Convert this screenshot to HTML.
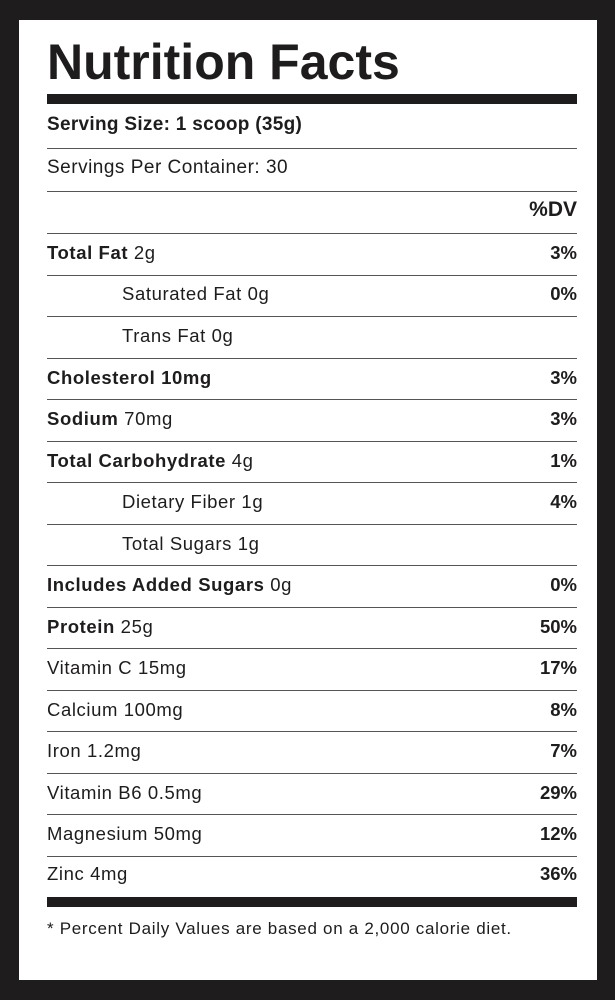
<!DOCTYPE html>
<html><head><meta charset="utf-8"><style>
body{margin:0;width:615px;height:1000px;background:#1e1c1d;position:relative;font-family:"Liberation Sans",sans-serif;color:#1e1c1d;overflow:hidden}
.panel{position:absolute;left:19px;top:20px;width:578px;height:960px;background:#fff}
.t{position:absolute;left:47px;top:33px;font-size:50px;font-weight:bold;letter-spacing:0px}
.bar{position:absolute;left:47px;width:530px;height:10px;background:#1e1c1d}
.line{position:absolute;left:47px;width:530px;height:1px;background:#555}
.row{position:absolute;left:47px;width:530px;font-size:18.5px;line-height:20px;box-sizing:border-box;letter-spacing:0.6px}
.row .r{position:absolute;right:0;top:0;font-weight:bold;letter-spacing:0}
.in{padding-left:75px}
b{font-weight:bold}
</style></head><body>
<div class="panel"></div>
<div class="t">Nutrition Facts</div>
<div class="bar" style="top:94px"></div>
<div class="row" style="top:115px;font-size:19px;letter-spacing:0.3px"><b>Serving Size: 1 scoop (35g)</b></div>
<div class="line" style="top:148px"></div>
<div class="row" style="top:158px;font-size:19px;letter-spacing:0.5px">Servings Per Container: 30</div>
<div class="line" style="top:191px"></div>
<div class="row" style="top:200px;font-size:21px"><span class="r">%DV</span></div>
<div class="line" style="top:233px"></div>

<div class="row" style="top:243px"><b>Total Fat</b> 2g<span class="r">3%</span></div>
<div class="line" style="top:275px"></div>
<div class="row in" style="top:284px">Saturated Fat 0g<span class="r">0%</span></div>
<div class="line" style="top:316px"></div>
<div class="row in" style="top:326px">Trans Fat 0g</div>
<div class="line" style="top:358px"></div>
<div class="row" style="top:368px"><b>Cholesterol 10mg</b><span class="r">3%</span></div>
<div class="line" style="top:399px"></div>
<div class="row" style="top:409px"><b>Sodium</b> 70mg<span class="r">3%</span></div>
<div class="line" style="top:441px"></div>
<div class="row" style="top:451px"><b>Total Carbohydrate</b> 4g<span class="r">1%</span></div>
<div class="line" style="top:482px"></div>
<div class="row in" style="top:492px">Dietary Fiber 1g<span class="r">4%</span></div>
<div class="line" style="top:524px"></div>
<div class="row in" style="top:534px">Total Sugars 1g</div>
<div class="line" style="top:565px"></div>
<div class="row" style="top:575px"><b>Includes Added Sugars</b> 0g<span class="r">0%</span></div>
<div class="line" style="top:607px"></div>
<div class="row" style="top:617px"><b>Protein</b> 25g<span class="r">50%</span></div>
<div class="line" style="top:648px"></div>
<div class="row" style="top:658px">Vitamin C 15mg<span class="r">17%</span></div>
<div class="line" style="top:690px"></div>
<div class="row" style="top:700px">Calcium 100mg<span class="r">8%</span></div>
<div class="line" style="top:731px"></div>
<div class="row" style="top:741px">Iron 1.2mg<span class="r">7%</span></div>
<div class="line" style="top:773px"></div>
<div class="row" style="top:783px">Vitamin B6 0.5mg<span class="r">29%</span></div>
<div class="line" style="top:814px"></div>
<div class="row" style="top:824px">Magnesium 50mg<span class="r">12%</span></div>
<div class="line" style="top:856px"></div>
<div class="row" style="top:864px">Zinc 4mg<span class="r">36%</span></div>
<div class="bar" style="top:897px"></div>
<div class="row" style="top:919px;font-size:17px;letter-spacing:0.7px">* Percent Daily Values are based on a 2,000 calorie diet.</div>
</body></html>
